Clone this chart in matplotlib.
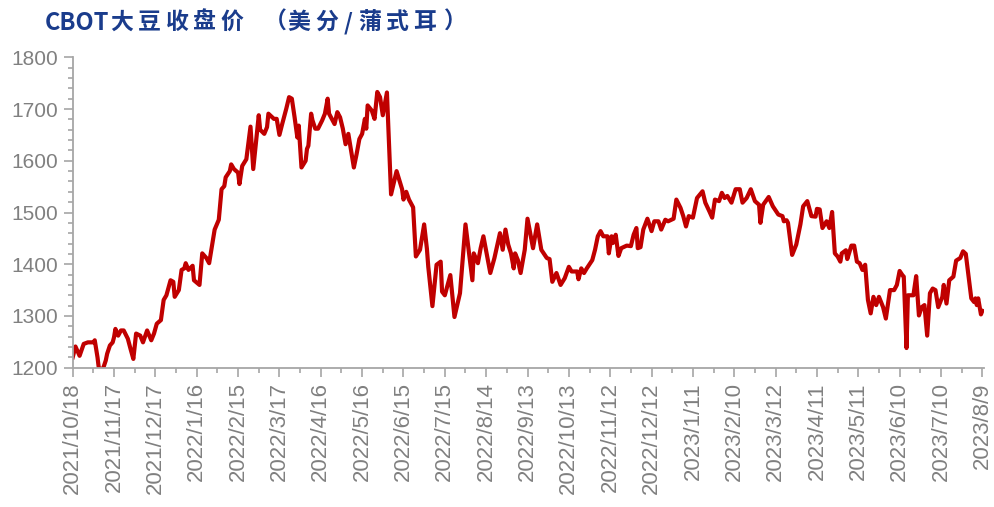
import matplotlib
matplotlib.use("Agg")
import matplotlib.pyplot as plt
from matplotlib.ticker import MultipleLocator
import pandas as pd

# CBOT soybean close, cents/bushel
start_date = "2021-10-18"
day_offsets = [
    0, 2, 5, 8, 11, 15, 16, 18, 19, 22,
    24, 25, 27, 29, 30, 31, 33, 35, 37, 40,
    42, 44, 46, 49, 51, 54, 57, 59, 61, 64,
    66, 68, 71, 73, 74, 77, 79, 81, 82, 84,
    87, 88, 92, 94, 97, 99, 101, 103, 106, 108,
    110, 111, 114, 115, 117, 120, 121, 123, 126, 129,
    131, 135, 136, 139, 141, 142, 146, 148, 150, 152,
    155, 157, 159, 161, 163, 164, 166, 169, 170, 171,
    173, 174, 176, 178, 181, 183, 185, 186, 188, 190,
    192, 194, 196, 198, 200, 204, 206, 208, 210, 212,
    213, 214, 217, 219, 221, 223, 225, 228, 231, 235,
    239, 240, 242, 244, 247, 249, 252, 255, 257, 258,
    261, 264, 267, 268, 270, 274, 277, 281, 285, 290,
    291, 294, 296, 298, 303, 306, 310, 312, 314, 316,
    318, 320, 321, 323, 325, 328, 330, 334, 337, 340,
    344, 346, 348, 351, 354, 357, 360, 362, 366, 367,
    369, 371, 373, 377, 379, 381, 383, 385, 388, 389,
    391, 392, 394, 396, 398, 402, 405, 407, 409, 410,
    412, 414, 417, 420, 422, 425, 427, 430, 432, 436,
    438, 441, 443, 445, 447, 450, 453, 457, 459, 462,
    464, 466, 469, 471, 473, 475, 478, 481, 484, 486,
    489, 492, 495, 498, 499, 501, 505, 508, 512, 515,
    516, 518, 519, 522, 525, 528, 530, 533, 536, 539,
    540, 542, 544, 547, 549, 551, 553, 555, 557, 558,
    561, 562, 565, 567, 569, 571, 573, 575, 577, 579,
    581, 583, 585, 588, 590, 593, 596, 598, 600, 602,
    603, 605, 606, 610, 612, 614, 616, 618, 620, 622,
    624, 626, 628, 631, 632, 634, 636, 639, 641, 644,
    646, 648, 652, 654, 655, 656, 657, 659, 660,
]
prices = [
    1220, 1241, 1223, 1246, 1249, 1249, 1253, 1220, 1198, 1198,
    1214, 1227, 1243, 1249, 1259, 1275, 1262, 1272, 1272, 1256,
    1236, 1217, 1266, 1262, 1249, 1272, 1253, 1266, 1285, 1292,
    1331, 1340, 1369, 1366, 1337, 1350, 1389, 1392, 1402, 1389,
    1397, 1369, 1360, 1421, 1412, 1402, 1434, 1467, 1486, 1545,
    1551, 1568, 1580, 1593, 1584, 1577, 1555, 1590, 1603, 1666,
    1584, 1688, 1660, 1652, 1665, 1691, 1681, 1681, 1650, 1671,
    1701, 1723, 1720, 1684, 1645, 1668, 1587, 1600, 1623, 1629,
    1691, 1678, 1662, 1662, 1678, 1691, 1720, 1691, 1681, 1671,
    1694, 1684, 1662, 1632, 1652, 1587, 1613, 1642, 1652, 1681,
    1662, 1707, 1697, 1681, 1733, 1723, 1688, 1732, 1535, 1580,
    1545, 1525, 1540, 1525, 1510, 1415, 1428, 1477, 1430, 1395,
    1319, 1399, 1405, 1347, 1340, 1379, 1298, 1344, 1477, 1369,
    1421, 1402, 1431, 1454, 1383, 1412, 1460, 1428, 1467, 1438,
    1421, 1392, 1421, 1408, 1383, 1428, 1488, 1431, 1477, 1428,
    1412, 1410, 1366, 1383, 1360, 1373, 1395, 1386, 1386, 1371,
    1392, 1383, 1392, 1408, 1428, 1454, 1464, 1454, 1454, 1421,
    1454, 1441, 1457, 1416, 1431, 1436, 1435, 1457, 1470, 1431,
    1433, 1467, 1488, 1464, 1483, 1483, 1467, 1486, 1483, 1488,
    1525, 1509, 1493, 1473, 1493, 1490, 1528, 1541, 1519, 1502,
    1490, 1525, 1522, 1538, 1528, 1532, 1519, 1545, 1545, 1519,
    1528, 1545, 1522, 1515, 1480, 1515, 1530, 1512, 1496, 1493,
    1483, 1485, 1480, 1418, 1438, 1477, 1512, 1522, 1493, 1492,
    1507, 1506, 1470, 1483, 1470, 1501, 1421, 1415, 1405, 1421,
    1427, 1410, 1436, 1436, 1405, 1402, 1389, 1399, 1331, 1305,
    1337, 1321, 1337, 1317, 1295, 1350, 1350, 1360, 1387, 1379,
    1376, 1238, 1340, 1340, 1377, 1301, 1317, 1321, 1262, 1344,
    1353, 1350, 1317, 1337, 1360, 1324, 1369, 1376, 1407, 1412,
    1425, 1420, 1334, 1327, 1334, 1321, 1334, 1303, 1310,
]
assert len(day_offsets) == len(prices)

tick_step_days = 30
n_ticks = 23
title_parts = ["CBOT", "大", "豆", "收", "盘", "价", "（", "美", "分", "/", "蒲", "式", "耳", "）"]

LINE_RED = "#C00000"
AXIS_GREY = "#A6A6A6"
TEXT_GREY = "#808080"
TITLE_BLUE = "#1A3C8C"

start = pd.Timestamp(start_date)
dates = start + pd.to_timedelta(day_offsets, unit="D")
tick_dates = [start + pd.Timedelta(days=tick_step_days * k) for k in range(n_ticks)]
minor_dates = [d + pd.Timedelta(days=tick_step_days // 2) for d in tick_dates[:-1]]

W, H = 995, 507
fig = plt.figure(figsize=(W / 100, H / 100), dpi=100)
ax = fig.add_axes([72.7 / W, 1 - 367.7 / H, 911 / W, 310.4 / H])

ax.plot(dates, prices, color=LINE_RED, lw=3.0, solid_joinstyle="round")

ax.set_ylim(1200, 1800)
ax.set_xlim(start, start + pd.Timedelta(days=661))
ax.yaxis.set_major_locator(MultipleLocator(100))
ax.yaxis.set_minor_locator(MultipleLocator(20))
ax.set_xticks(tick_dates)
ax.set_xticks(minor_dates, minor=True)
ax.set_xticklabels([f"{d.year}/{d.month}/{d.day}" for d in tick_dates], rotation=90)

for side in ("top", "right"):
    ax.spines[side].set_visible(False)
for side in ("left", "bottom"):
    ax.spines[side].set_color(AXIS_GREY)
    ax.spines[side].set_linewidth(1.3)

ax.tick_params(which="major", length=6.5, width=1.2, color=AXIS_GREY,
               labelcolor=TEXT_GREY, labelsize=15, pad=4)
ax.tick_params(which="minor", length=3.8, width=1.2, color=AXIS_GREY)
ax.tick_params(axis="x", which="major", labelsize=16)
for lab in ax.get_xticklabels() + ax.get_yticklabels():
    lab.set_family("Liberation Sans")

# title, placed glyph by glyph to keep the wide spacing of the original
centers = [77, 122, 149.5, 177, 204.5, 232, 275, 299, 327, 348, 370, 397, 425, 455]
for part, cx in zip(title_parts, centers):
    fig.text(cx / W, 1 - 22.5 / H, part, ha="center", va="center",
             family=["Noto Sans CJK SC", "DejaVu Sans"],
             fontsize=17 if part == "CBOT" else 16.5,
             weight="bold", color=TITLE_BLUE)

fig.savefig("out.png", dpi=100)
